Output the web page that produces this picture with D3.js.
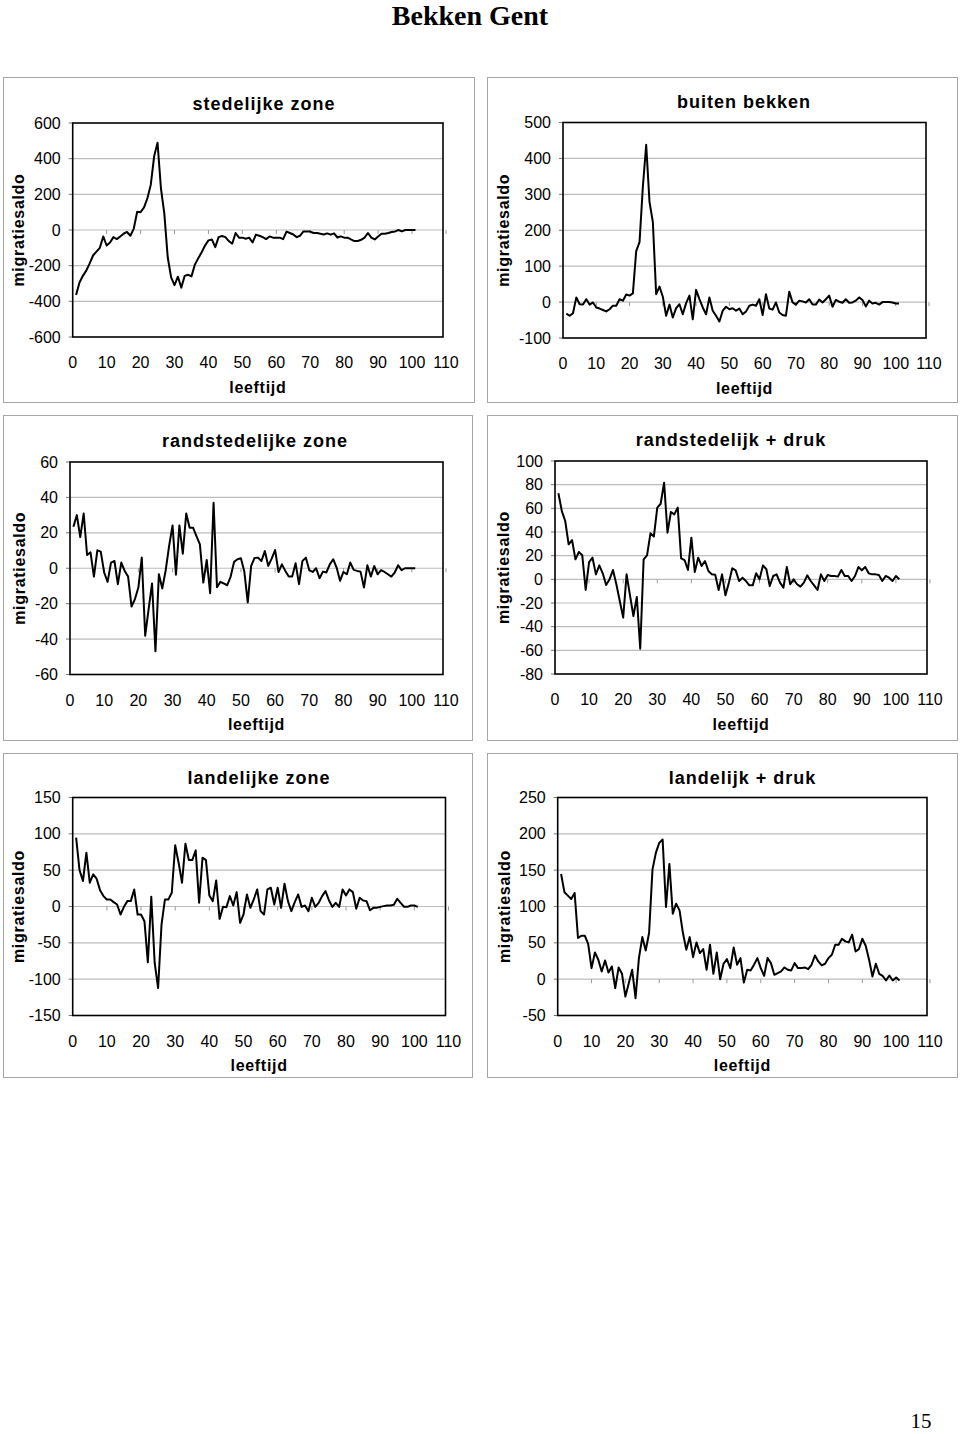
<!DOCTYPE html>
<html>
<head>
<meta charset="utf-8">
<script src="https://cdn.jsdelivr.net/npm/d3@7"></script>
<style>
  html, body { margin: 0; padding: 0; background: #fff; }
  svg { display: block; }
  text { font-family: "Liberation Sans", Arial, sans-serif; fill: #000; }
</style>
</head>
<body>
<svg id="chart" width="960" height="1434"></svg>
<script>
// ---------- DATA ----------
const pageTitle = "Bekken Gent";
const pageNumber = "15";
const xAxisTitle = "leeftijd";
const yAxisTitle = "migratiesaldo";
const xTickLabels = [0, 10, 20, 30, 40, 50, 60, 70, 80, 90, 100, 110];
const ages = d3.range(1, 102); // leeftijd categories of the series

const titles = ["stedelijke zone", "buiten bekken", "randstedelijke zone",
                "randstedelijk + druk", "landelijke zone", "landelijk + druk"];

const stedelijkeZone = [
  -364, -294, -257, -228, -187, -143, -121, -100, -36, -87,
  -70, -40, -51, -36, -21, -11, -32, 8, 102, 100,
  126, 177, 253, 413, 489, 234, 92, -153, -266, -309,
  -262, -323, -257, -251, -260, -194, -158, -125, -87, -58,
  -53, -96, -40, -34, -40, -62, -77, -17, -43, -43,
  -49, -43, -70, -26, -32, -40, -51, -36, -43, -43,
  -43, -51, -9, -17, -25, -40, -32, -8, -8, -9,
  -17, -17, -21, -25, -19, -26, -19, -42, -36, -43,
  -43, -53, -62, -62, -55, -43, -17, -43, -53, -36,
  -21, -21, -17, -11, -8, 0, -8, 0, 0, 0, 0
];

const buitenBekken = [
  -32, -38, -31, 13, -6, -7, 8, -7, -1, -15,
  -18, -22, -26, -20, -10, -10, 8, 4, 21, 18,
  24, 142, 167, 321, 438, 279, 223, 22, 43, 15,
  -38, -7, -43, -17, -6, -34, -3, 18, -48, 34,
  8, -15, -34, 13, -24, -38, -54, -24, -13, -20,
  -17, -24, -18, -34, -26, -10, -7, -10, 8, -36,
  22, -18, -21, -1, -29, -36, -38, 29, -1, -7,
  4, 2, -1, 8, -7, -7, 7, -1, 8, 18,
  -13, 6, 1, -2, 8, -2, -1, 4, 13, 6,
  -12, 4, -4, -2, -7, 0, 0, 0, -1, -4, -4
];

const randstedelijkeZone = [
  23.4, 30.0, 17.6, 30.9, 7.5, 9.0, -4.7, 10.1, 9.4, -2.4,
  -7.7, 3.2, 4.1, -9.0, 3.2, -1.5, -4.7, -21.6, -17.4, -10.9,
  6.0, -38.1, -23.1, -8.6, -46.9, -3.4, -11.4, -1.1, 12.6, 24.2,
  -3.6, 24.2, 8.2, 30.9, 22.9, 22.9, 18.2, 13.5, -8.1, 4.7,
  -14.1, 37.0, -10.7, -7.7, -8.6, -9.6, -4.7, 3.6, 5.1, 5.6,
  -1.9, -19.3, 1.3, 5.8, 6.0, 4.1, 9.7, 1.3, 5.4, 10.3,
  -2.1, 2.2, -1.5, -4.7, -4.7, 2.8, -9.0, 4.1, 6.0, -1.1,
  -2.1, 0, -5.6, -1.9, -2.4, 2.2, 5.1, 0.4, -7.1, -2.1,
  -3.4, 3.2, -0.9, -1.5, -1.9, -10.9, 1.7, -4.7, 1.3, -3.4,
  -1.1, -2.1, -3.4, -4.7, -2.4, 1.7, -1.1, 0, 0, 0, 0
];

const randstedelijkDruk = [
  72.7, 57.7, 49.3, 29.6, 33.2, 16.9, 23.1, 20.3, -9.0, 14.6,
  18.3, 4.2, 11.8, 5.1, -4.8, 0, 7.9, -4.2, -18.3, -32.4,
  4.2, -13.5, -31.0, -14.9, -58.6, 16.9, 20.3, 38.9, 36.1, 60.6,
  63.9, 81.7, 39.4, 56.9, 54.9, 60.6, 17.7, 16.3, 7.9, 35.2,
  6.2, 18.3, 11.3, 15.5, 7.0, 4.2, 3.9, -9.0, 4.2, -13.5,
  -2.8, 9.3, 7.6, -1.4, 1.4, -1.4, -5.1, -5.1, 5.1, 0,
  11.8, 8.5, -5.6, 2.8, 4.2, -2.8, -7.0, 10.4, -4.2, 0,
  -4.2, -6.2, -2.8, 3.4, -1.4, -5.1, -9.0, 4.2, -1.4, 3.7,
  2.8, 2.8, 2.3, 7.9, 2.8, 2.8, -1.4, 2.8, 10.4, 7.6,
  10.4, 5.1, 4.2, 4.2, 3.7, -1.4, 2.8, 1.4, -1.4, 2.8, 0
];

const landelijkeZone = [
  94.8, 50.1, 35.0, 74.1, 32.7, 44.2, 38.2, 22.5, 14.3, 9.7,
  9.7, 6.0, 2.8, -11.0, -0.5, 7.4, 7.4, 23.5, -11.0, -11.0,
  -20.2, -76.8, 13.3, -77.7, -112.2, -24.8, 9.7, 9.7, 18.9, 84.2,
  60.3, 32.7, 86.5, 63.9, 63.9, 77.3, 5.1, 67.2, 63.9, 15.2,
  7.4, 35.9, -17.0, -0.5, -0.9, 14.3, 1.4, 19.8, -22.5, -11.0,
  16.6, -1.8, 9.7, 23.5, -6.4, -11.0, 23.5, 25.8, 2.8, 25.8,
  -1.8, 31.3, 7.4, -6.4, 6.0, 16.6, -0.5, 1.4, -6.4, 12.0,
  -0.5, 5.1, 14.3, 21.2, 8.7, -0.5, 5.1, -0.5, 23.5, 15.2,
  23.5, 19.8, -3.2, 12.0, 8.3, 7.4, -5.1, -1.8, -1.8, -0.5,
  0.5, 1.4, 1.4, 2.3, 10.6, 5.1, -0.5, -0.5, 1.4, 1.4, -0.5
];

const landelijkDruk = [
  144.8, 119.5, 115.0, 110.4, 118.6, 56.6, 59.8, 59.8, 48.7, 15.2,
  36.8, 26.7, 10.6, 25.7, 9.2, 17.5, -12.4, 16.1, 7.4, -23.9,
  -5.5, 12.9, -26.2, 29.0, 57.9, 39.5, 63.5, 150.8, 173.8, 187.6,
  192.2, 99.3, 158.6, 90.1, 103.9, 94.7, 63.5, 40.5, 57.9, 30.3,
  50.6, 35.9, 41.4, 12.9, 47.4, 7.4, 36.8, 0, 21.2, 27.6,
  15.2, 43.7, 19.8, 29.0, -4.6, 12.9, 12.0, 19.8, 29.0, 15.2,
  4.6, 29.0, 22.1, 6.0, 8.3, 10.6, 16.1, 12.9, 12.0, 22.1,
  15.2, 15.2, 16.1, 13.8, 19.8, 32.6, 24.4, 18.9, 21.2, 29.0,
  33.6, 47.4, 47.4, 55.6, 52.0, 50.6, 61.2, 38.2, 41.4, 55.6,
  46.0, 26.7, 3.7, 21.2, 7.4, 4.6, -1.8, 5.1, -1.8, 2.3, -1.8
];

const yTicks1 = [-600, -400, -200, 0, 200, 400, 600];
const yTicks2 = [-100, 0, 100, 200, 300, 400, 500];
const yTicks3 = [-60, -40, -20, 0, 20, 40, 60];
const yTicks4 = [-80, -60, -40, -20, 0, 20, 40, 60, 80, 100];
const yTicks5 = [-150, -100, -50, 0, 50, 100, 150];
const yTicks6 = [-50, 0, 50, 100, 150, 200, 250];

// ---------- LAYOUT ----------
const panels = [
  { title: titles[0], values: stedelijkeZone, ticks: yTicks1,
    frame: [3, 77, 474, 402], plot: [72.7, 123, 443, 337], titleX: 264, titleY: 110, ylabX: 18 },
  { title: titles[1], values: buitenBekken, ticks: yTicks2,
    frame: [487, 77, 957, 402], plot: [563, 122.5, 926, 338], titleX: 744, titleY: 108, ylabX: 503 },
  { title: titles[2], values: randstedelijkeZone, ticks: yTicks3,
    frame: [3, 415, 472, 740], plot: [70, 462, 443, 674.5], titleX: 255, titleY: 447, ylabX: 19 },
  { title: titles[3], values: randstedelijkDruk, ticks: yTicks4,
    frame: [487, 415, 957, 740], plot: [555, 461, 927, 674], titleX: 731, titleY: 446, ylabX: 503 },
  { title: titles[4], values: landelijkeZone, ticks: yTicks5,
    frame: [3, 753, 472, 1077], plot: [72.7, 797.5, 445.5, 1015.5], titleX: 259, titleY: 784, ylabX: 18 },
  { title: titles[5], values: landelijkDruk, ticks: yTicks6,
    frame: [487, 753, 957, 1077], plot: [557.7, 797.5, 927, 1015.5], titleX: 742.5, titleY: 784, ylabX: 504 }
];

const svg = d3.select("#chart");

svg.append("text")
  .attr("x", 470).attr("y", 25)
  .attr("text-anchor", "middle")
  .style("font-family", "'Liberation Serif', 'Times New Roman', serif")
  .style("font-weight", "bold").style("font-size", "28px")
  .text(pageTitle);

svg.append("text")
  .attr("x", 921).attr("y", 1428)
  .attr("text-anchor", "middle")
  .style("font-family", "'Liberation Serif', 'Times New Roman', serif")
  .style("font-size", "21px")
  .text(pageNumber);

panels.forEach(p => {
  const [fx0, fy0, fx1, fy1] = p.frame;
  const [pl, pt, pr, pb] = p.plot;
  const g = svg.append("g");

  g.append("rect")
    .attr("x", fx0 + 0.5).attr("y", fy0 + 0.5)
    .attr("width", fx1 - fx0).attr("height", fy1 - fy0)
    .attr("fill", "#fff").attr("stroke", "#a6a6a6").attr("stroke-width", 1);

  const yMin = d3.min(p.ticks), yMax = d3.max(p.ticks);
  const y = d3.scaleLinear().domain([yMin, yMax]).range([pb, pt]);
  const x = d3.scaleLinear().domain([0, 110]).range([pl, pr + 3]);

  // gridlines
  g.selectAll(".grid").data(p.ticks.filter(t => t !== yMin && t !== yMax))
    .enter().append("line")
    .attr("x1", pl).attr("x2", pr)
    .attr("y1", d => y(d)).attr("y2", d => y(d))
    .attr("stroke", "#bdbdbd").attr("stroke-width", 1.2);

  // y tick marks + labels
  g.selectAll(".ytm").data(p.ticks).enter().append("line")
    .attr("x1", pl - 4).attr("x2", pl)
    .attr("y1", d => y(d)).attr("y2", d => y(d))
    .attr("stroke", "#777").attr("stroke-width", 1);
  g.selectAll(".ytl").data(p.ticks).enter().append("text")
    .attr("x", pl - 12).attr("y", d => y(d))
    .attr("text-anchor", "end").attr("dominant-baseline", "central")
    .style("font-size", "16px")
    .text(d => d);

  // category axis crossing at 0, with tick marks
  const y0 = y(0);
  g.selectAll(".xtm").data(xTickLabels).enter().append("line")
    .attr("x1", d => x(d)).attr("x2", d => x(d))
    .attr("y1", y0).attr("y2", y0 + 4)
    .attr("stroke", "#999").attr("stroke-width", 1);

  // x labels at bottom
  g.selectAll(".xtl").data(xTickLabels).enter().append("text")
    .attr("x", d => x(d)).attr("y", pb + 31)
    .attr("text-anchor", "middle")
    .style("font-size", "16px")
    .text(d => d);

  // plot area border
  g.append("rect")
    .attr("x", pl).attr("y", pt)
    .attr("width", pr - pl).attr("height", pb - pt)
    .attr("fill", "none").attr("stroke", "#000").attr("stroke-width", 1.6);

  // series line
  const line = d3.line().x((d, i) => x(ages[i])).y(d => y(d));
  g.append("path")
    .datum(p.values)
    .attr("d", line)
    .attr("fill", "none").attr("stroke", "#000")
    .attr("stroke-width", 2).attr("stroke-linejoin", "round");

  // titles
  g.append("text")
    .attr("x", p.titleX).attr("y", p.titleY)
    .attr("text-anchor", "middle")
    .style("font-weight", "bold").style("font-size", "18px")
    .style("letter-spacing", "1px")
    .text(p.title);

  g.append("text")
    .attr("x", (pl + pr) / 2).attr("y", pb + 55.5)
    .attr("text-anchor", "middle")
    .style("font-weight", "bold").style("font-size", "16px")
    .style("letter-spacing", "0.7px")
    .text(xAxisTitle);

  g.append("text")
    .attr("transform", `translate(${p.ylabX},${(pt + pb) / 2}) rotate(-90)`)
    .attr("text-anchor", "middle").attr("dominant-baseline", "central")
    .style("font-weight", "bold").style("font-size", "16px")
    .style("letter-spacing", "0.7px")
    .text(yAxisTitle);
});
</script>
</body>
</html>
